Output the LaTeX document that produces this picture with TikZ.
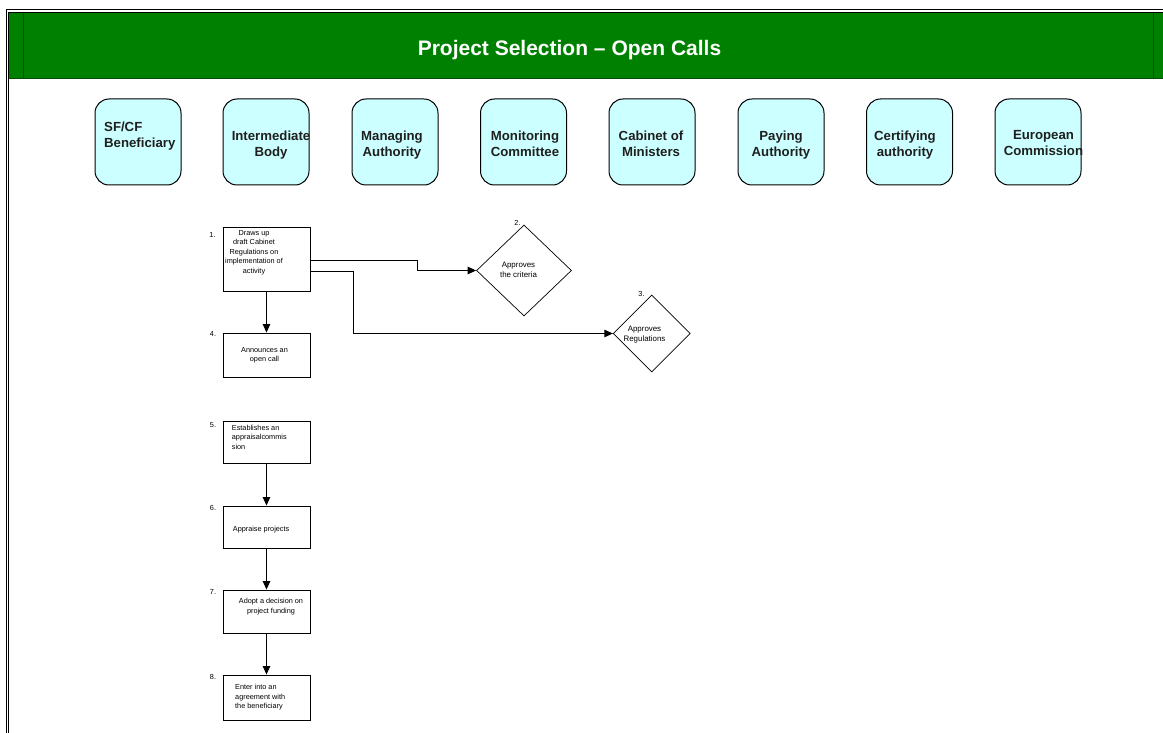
\documentclass[tikz,border=0pt]{standalone}
\usepackage{fontspec}
\setmainfont{Liberation Sans}
\usetikzlibrary{shapes.geometric,arrows.meta}
\definecolor{bargreen}{HTML}{008000}
\definecolor{barline}{HTML}{0B4A0B}
\definecolor{lanecyan}{HTML}{CCFFFF}
\begin{document}
\begin{tikzpicture}[x=1pt,y=-1pt,
 lane/.style={draw=black,line width=1pt,fill=lanecyan,rounded corners=14pt,minimum width=86pt,minimum height=86pt,inner sep=0pt},
 lanetxt/.style={font=\fontsize{13.2}{16}\selectfont\bfseries,align=center,inner sep=0pt,text=black!88},
 stepbox/.style={draw=black,line width=0.9pt,fill=white,minimum width=87pt,inner sep=0pt},
 dec/.style={draw=black,line width=0.7pt,diamond,inner sep=0pt,fill=white},
 small/.style={font=\fontsize{7.3}{9.6}\selectfont,inner sep=0pt},
 dtxt/.style={font=\fontsize{7.9}{9.6}\selectfont,inner sep=0pt},
 conn/.style={draw=black,line width=1pt,-{Triangle[length=8.5pt,width=7.5pt]}},
]
\useasboundingbox (0,0) rectangle (1163,733);
% frame
\draw[line width=1pt] (6,733) -- (6,10) -- (1163,10);
\draw[line width=1pt] (8.2,733) -- (8.2,12.2) -- (1163,12.2);
% title bar
\fill[bargreen] (9,13) rectangle (1163,78);
\draw[barline,line width=0.8pt] (9,78) -- (1163,78);
\draw[barline,line width=0.8pt] (23,13) -- (23,78);
\draw[barline,line width=0.8pt] (1153,13) -- (1153,78);
\node[anchor=base,text=white,font=\fontsize{21}{25}\selectfont\bfseries,inner sep=0pt] (title) at (569.5,55.7) {Project Selection – Open Calls};

% lane headers
\node[lane] (l1) at (138,142) {};
\node[lane] (l2) at (266,142) {};
\node[lane] (l3) at (395,142) {};
\node[lane] (l4) at (523.5,142) {};
\node[lane] (l5) at (652,142) {};
\node[lane] (l6) at (781,142) {};
\node[lane] (l7) at (909.5,142) {};
\node[lane] (l8) at (1038,142) {};
\node[lanetxt,align=left,anchor=west] (t1) at (104,136.5) {SF/CF\\Beneficiary};
\node[lanetxt] (t2) at (271,145) {Intermediate\\Body};
\node[lanetxt] (t3) at (392,145) {Managing\\Authority};
\node[lanetxt] (t4) at (525,143.5) {Monitoring\\Committee};
\node[lanetxt] (t5) at (651,143.5) {Cabinet of\\Ministers};
\node[lanetxt] (t6) at (781,145) {Paying\\Authority};
\node[lanetxt] (t7) at (905,145) {Certifying\\authority};
\node[lanetxt] (t8) at (1043.5,143.5) {European\\Commission};

% process boxes
\node[stepbox,minimum height=64pt] (b1) at (266.5,259) {};
\node[stepbox,minimum height=44pt] (b4) at (266.5,355) {};
\node[stepbox,minimum height=42pt] (b5) at (266.5,442) {};
\node[stepbox,minimum height=42pt] (b6) at (266.5,527) {};
\node[stepbox,minimum height=43pt] (b7) at (266.5,611.5) {};
\node[stepbox,minimum height=45pt] (b8) at (266.5,697.5) {};

\node[small,align=center,anchor=north] (x1) at (254,229.8) {Draws up\\draft Cabinet\\Regulations on\\implementation of\\activity};
\node[small,align=center,anchor=north] (x4) at (264.5,346.8) {Announces an\\open call};
\node[small,align=left,anchor=north west] (x5) at (231.7,424.8) {Establishes an\\appraisalcommis\\sion};
\node[small,align=left,anchor=north west] (x6) at (232.7,525.8) {Appraise projects};
\node[small,align=center,anchor=north] (x7) at (271,598) {Adopt a decision on\\project funding};
\node[small,align=left,anchor=north west] (x8) at (235,684) {Enter into an\\agreement with\\the beneficiary};

% decisions
\node[dec,minimum width=95pt,minimum height=91pt] (d2) at (524,270.5) {};
\node[dec,minimum width=77pt,minimum height=77pt] (d3) at (651.7,333.5) {};
\node[dtxt,align=center,anchor=north] (y2) at (518.5,262.3) {Approves\\the criteria};
\node[dtxt,align=center,anchor=north] (y3) at (644.5,325.8) {Approves\\Regulations};

% step numbers
\node[small] (n1) at (212.5,234.5) {1.};
\node[small] (n2) at (517.5,223) {2.};
\node[small] (n3) at (641.5,293.5) {3.};
\node[small] (n4) at (213,334) {4.};
\node[small] (n5) at (213,425.5) {5.};
\node[small] (n6) at (213,508) {6.};
\node[small] (n7) at (213,592) {7.};
\node[small] (n8) at (213,677) {8.};

% connectors
\draw[conn] (b1.south) -- (b4.north);
\draw[conn] (b5.south) -- (b6.north);
\draw[conn] (b6.south) -- (b7.north);
\draw[conn] (b7.south) -- (b8.north);
\draw[conn] ([yshift=-1.7pt]b1.east) -- ++(106.7,0) |- (d2.west);
\draw[conn] ([yshift=-12.3pt]b1.east) -- ++(43.3,0) |- (d3.west);
\end{tikzpicture}
\end{document}
